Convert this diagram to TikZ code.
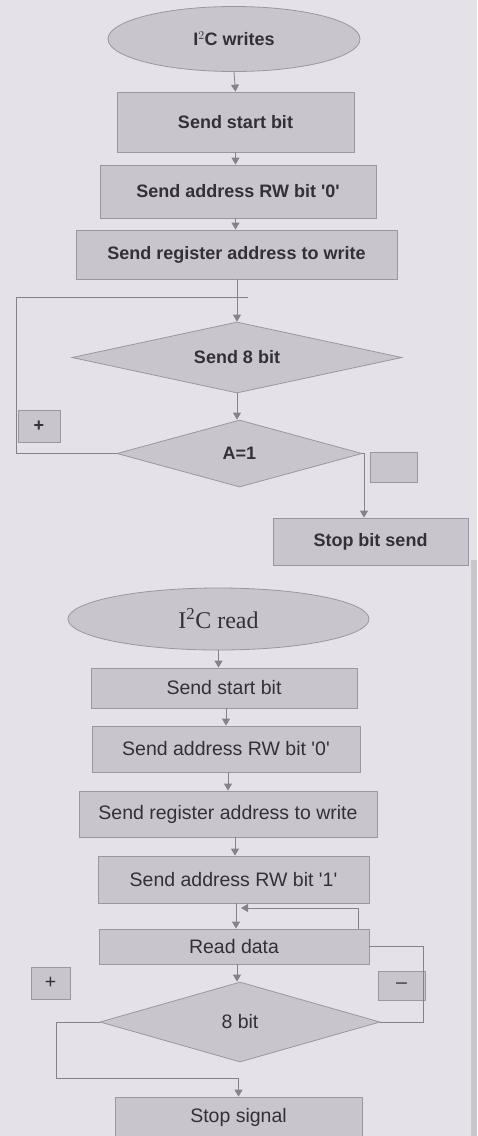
\documentclass[tikz,border=0pt]{standalone}
\usepackage{fontspec}
\setmainfont{Liberation Sans}[Ligatures=TeXOff]
\newfontfamily\serifcap{Liberation Serif}
\usetikzlibrary{shapes.geometric,arrows.meta}
\definecolor{bgc}{HTML}{E5E1E9}
\definecolor{edgec}{HTML}{C9C5CD}
\definecolor{boxc}{HTML}{C8C5CC}
\definecolor{bordc}{HTML}{9A97A0}
\definecolor{linec}{HTML}{85828B}
\definecolor{txtc}{HTML}{333137}
\tikzset{
  base/.style={fill=boxc, draw=bordc, line width=0.8pt, text=txtc, inner sep=0pt},
  wbox/.style={base, rectangle, font=\fontsize{18}{20}\selectfont\bfseries},
  rbox/.style={base, rectangle, font=\fontsize{19.5}{22}\selectfont},
  wdia/.style={base, diamond, shape aspect=4.6, font=\fontsize{18}{20}\selectfont\bfseries},
  rdia/.style={base, diamond, shape aspect=3.5, font=\fontsize{19.5}{22}\selectfont},
  oval/.style={base, ellipse},
  conn/.style={draw=linec, line width=0.8pt},
  arr/.style={conn, -{Triangle[width=8pt,length=7pt]}},
}
\begin{document}
\begin{tikzpicture}[x=1pt,y=-1pt]
\fill[bgc] (0,0) rectangle (477,1136);
\useasboundingbox (0,0) rectangle (477,1136);
\fill[edgec] (471,560) rectangle (477,1136);

% ---------- I2C writes ----------
\node[oval, minimum width=252, minimum height=65, font=\fontsize{18}{20}\selectfont\bfseries] (w0) at (234,39) {I$^2$C writes};
\node[wbox, minimum width=237, minimum height=60] (w1) at (235.5,122) {Send start bit};
\node[wbox, minimum width=276, minimum height=53] (w2) at (238,191.5) {Send address RW bit '0'};
\node[wbox, minimum width=321, minimum height=49] (w3) at (236.5,254.5) {Send register address to write};
\node[wdia, minimum width=330, minimum height=71] (w4) at (237,357.5) {Send 8 bit};
\node[wdia, minimum width=245, minimum height=67] (w5) at (239.5,453.5) {A=1};
\node[wbox, minimum width=42, minimum height=32] (wplus) at (39,426) {+};
\node[wbox, minimum width=47, minimum height=30] (wempty) at (393.5,467) {};
\node[wbox, minimum width=195, minimum height=47] (w6) at (370.5,541.5) {Stop bit send};

\coordinate (wl1) at (16,297);
\coordinate (wl2) at (248,297);
\coordinate (wr) at (364,453.5);

\draw[arr] (w0.south) -- (w1.north);
\draw[arr] (w1.south) -- (w2.north -| w1.south);
\draw[arr] (w2.south -| w1.south) -- (w3.north -| w1.south);
\draw[arr] (w3.south -| w4.north) -- (w4.north);
\draw[conn] (w5.west) -| (wl1) -- (wl2);
\draw[arr] (w4.south) -- (w5.north -| w4.south);
\draw[arr] (w5.east) -- (wr) -- (wr |- w6.north);

% ---------- I2C read ----------
\node[oval, minimum width=301, minimum height=62, font=\fontsize{24}{26}\selectfont\serifcap] (r0) at (218.5,619) {I\textsuperscript{2}C read};
\node[rbox, minimum width=266, minimum height=40] (r1) at (224,688) {Send start bit};
\node[rbox, minimum width=268, minimum height=46] (r2) at (226,749) {Send address RW bit '0'};
\node[rbox, minimum width=298, minimum height=46] (r3) at (228,814) {Send register address to write};
\node[rbox, minimum width=271, minimum height=47] (r4) at (233.5,879.5) {Send address RW bit '1'};
\node[rbox, minimum width=270, minimum height=35] (r5) at (234,946.5) {Read data};
\node[rdia, minimum width=280, minimum height=80] (r6) at (240,1022) {8 bit};
\node[rbox, minimum width=39, minimum height=32] (rplus) at (50.5,983) {+};
\node[rbox, minimum width=47, minimum height=29] (rminus) at (401.5,985.5) {\char"2013};
\node[rbox, minimum width=247, minimum height=40] (r7) at (238.5,1117) {Stop signal};

\coordinate (rl1) at (358,908);
\coordinate (rl2) at (241,908);
\coordinate (rr1) at (423,946.5);
\coordinate (rl3) at (56,1078);

\draw[arr] (r0.south) -- (r0.south |- r1.north);
\draw[arr] (r1.south -| r2.north) -- (r2.north);
\draw[arr] (r2.south -| r3.north) -- (r3.north);
\draw[arr] (r3.south -| 235,0) -- (r4.north -| 235,0);
\draw[arr] (r4.south -| 236,0) -- (r5.north -| 236,0);
\draw[arr] (r5.north -| rl1) -- (rl1) -- (rl2);
\draw[arr] (r5.south -| 237,0) -- (r6.north -| 237,0);
\draw[conn] (r6.east) -| (rr1) -- (r5.east);
\draw[arr] (r6.west) -| (rl3) -| (r7.north);
\end{tikzpicture}
\end{document}
